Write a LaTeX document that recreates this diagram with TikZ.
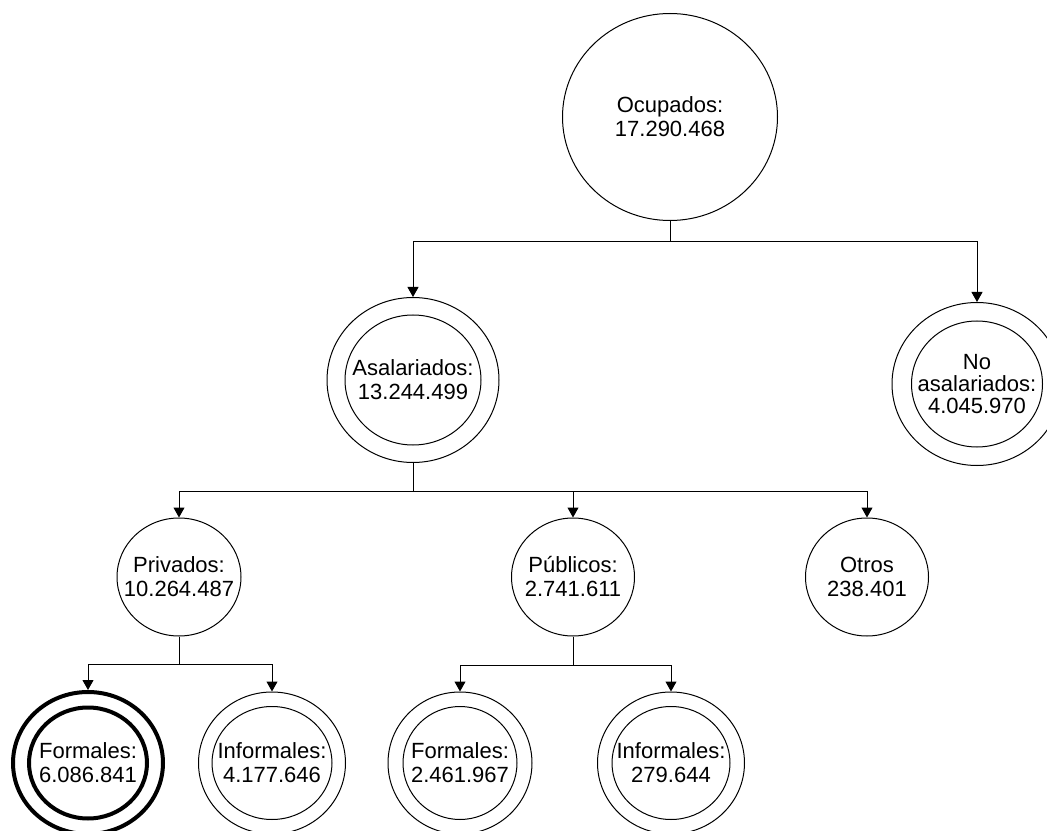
\documentclass[tikz,border=0pt]{standalone}
\usepackage{fontspec}
\setmainfont{Liberation Sans}
\usetikzlibrary{arrows.meta,shapes.geometric}

\tikzset{every picture/.style={line width=0.75pt}}
\tikzset{
  bub/.style 2 args={ellipse, draw, inner sep=0pt, minimum width=#1*0.75pt, minimum height=#2*0.75pt},
  txt/.style={font=\fontsize{16.5}{18}\selectfont, align=center, inner sep=0pt},
  arr/.style={-{Triangle[width=8.25pt,length=7.5pt]}},
  heavy/.style={line width=3pt}
}

\begin{document}
\begin{tikzpicture}[x=0.75pt,y=0.75pt,yscale=-1,xscale=1]
\useasboundingbox (0,0) rectangle (1047,831);

%Shape: Ellipse [ocupados]
\node[bub={215}{207}, label={[txt]center:{Ocupados:\\17.290.468}}] (ocup) at (670,117) {};
%Shape: Ellipse [asalariados]
\node[bub={172}{165}] (asal) at (413,380) {};
\node[bub={136}{130}, label={[txt]center:{Asalariados:\\13.244.499}}] (asal-in) at (asal) {};
%Shape: Ellipse [no asalariados]
\node[bub={170}{163}] (noasal) at (977,384) {};
\node[bub={131}{126}, label={[txt,font=\fontsize{16.5}{16.5}\selectfont]center:{No\\asalariados:\\4.045.970}}] (noasal-in) at (noasal) {};
%Shape: Ellipse [privados, publicos, otros]
\node[bub={124}{118}, label={[txt]center:{Privados:\\10.264.487}}] (priv) at (179,577) {};
\node[bub={123}{118}, label={[txt]center:{Públicos:\\2.741.611}}] (publ) at (573,577) {};
\node[bub={123}{118}, label={[txt]center:{Otros\\238.401}}] (otros) at (867,577) {};
%Shape: Ellipse [formales / informales]
\node[bub={150}{142}, heavy] (form1) at (88,763) {};
\node[bub={118}{111}, heavy, label={[txt]center:{Formales:\\6.086.841}}] (form1-in) at (form1) {};
\node[bub={147}{142}] (inf1) at (272,763) {};
\node[bub={120}{113}, label={[txt]center:{Informales:\\4.177.646}}] (inf1-in) at (inf1) {};
\node[bub={144}{142}] (form2) at (460,763) {};
\node[bub={114}{113}, label={[txt]center:{Formales:\\2.461.967}}] (form2-in) at (form2) {};
\node[bub={147}{142}] (inf2) at (671,763) {};
\node[bub={118}{113}, label={[txt]center:{Informales:\\279.644}}] (inf2-in) at (inf2) {};

%Connectors
\coordinate (bus1) at (670,242);
\coordinate (bus2) at (413,491);
\coordinate (bus3) at (179,664);
\coordinate (bus4) at (573,665);

\draw (ocup) -- (bus1);
\draw[arr] (bus1) -| (asal);
\draw[arr] (bus1) -| (noasal);

\draw (asal) -- (bus2);
\draw[arr] (bus2) -| (priv);
\draw[arr] (bus2) -| (publ);
\draw[arr] (bus2) -| (otros);

\draw (priv) -- (bus3);
\draw[arr] (bus3) -| (form1);
\draw[arr] (bus3) -| (inf1);

\draw (publ) -- (bus4);
\draw[arr] (bus4) -| (form2);
\draw[arr] (bus4) -| (inf2);

\end{tikzpicture}
\end{document}
